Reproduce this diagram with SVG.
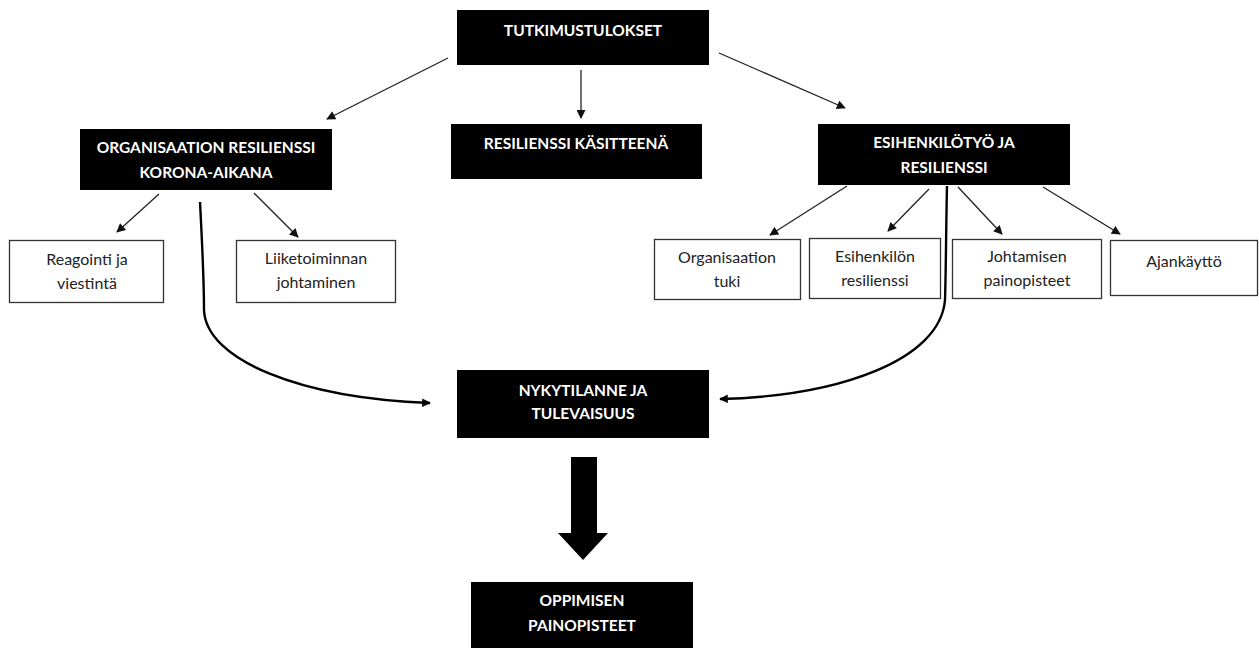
<svg xmlns="http://www.w3.org/2000/svg" width="1259" height="648" viewBox="0 0 1259 648">
  <style>
    .dark { fill: #000; }
    .light { fill: #fff; stroke: #333; stroke-width: 1.3; }
    .hd { font-family: Lato, "Open Sans", "Liberation Sans", sans-serif; font-weight: bold; font-size: 15.5px; fill: #fff; text-anchor: middle; }
    .tx { font-family: Lato, "Open Sans", "Liberation Sans", sans-serif; font-size: 16px; fill: #222; text-anchor: middle; }
    .ln { fill: none; stroke: #222; stroke-width: 1.3; }
    .crv { fill: none; stroke: #000; stroke-width: 2.4; }
  </style>
  <defs>
    <marker id="tri" viewBox="0 0 10 10" refX="9" refY="5" markerWidth="10" markerHeight="9" markerUnits="userSpaceOnUse" orient="auto">
      <path d="M0,0 L10,5 L0,10 Z" fill="#111"/>
    </marker>
    <marker id="triC" viewBox="0 0 10 10" refX="9" refY="5" markerWidth="4.5" markerHeight="3.6" orient="auto">
      <path d="M0,0 L10,5 L0,10 Z" fill="#000"/>
    </marker>
  </defs>
  <rect width="1259" height="648" fill="#fff"/>

  <g id="connectors">
    <line class="ln" x1="448" y1="58" x2="327" y2="119" marker-end="url(#tri)"/>
    <line class="ln" x1="581" y1="70" x2="581" y2="118" marker-end="url(#tri)"/>
    <line class="ln" x1="719" y1="53" x2="845" y2="108" marker-end="url(#tri)"/>

    <line class="ln" x1="159" y1="194" x2="117" y2="232" marker-end="url(#tri)"/>
    <line class="ln" x1="254" y1="193" x2="298" y2="237" marker-end="url(#tri)"/>

    <line class="ln" x1="847" y1="186" x2="770" y2="235" marker-end="url(#tri)"/>
    <line class="ln" x1="929" y1="189" x2="888" y2="231" marker-end="url(#tri)"/>
    <line class="ln" x1="958" y1="187" x2="1002" y2="234" marker-end="url(#tri)"/>
    <line class="ln" x1="1043" y1="187" x2="1120" y2="234" marker-end="url(#tri)"/>

    <path class="crv" d="M200,202 C202,240 204,280 204,310 C206,360 300,398 430,403" marker-end="url(#triC)"/>
    <path class="crv" d="M947,186 C946,230 946,270 945,300 C940,360 840,396 720,399" marker-end="url(#triC)"/>

    <path class="dark" d="M571,457 H597 V533 H608 L583,560 L558,533 H571 Z"/>
  </g>

  <g id="n-tutkimustulokset">
    <rect class="dark" x="457" y="10" width="252" height="55"/>
    <text class="hd" x="583" y="36">TUTKIMUSTULOKSET</text>
  </g>

  <g id="n-resilienssi-kasitteena">
    <rect class="dark" x="451" y="124" width="251" height="55"/>
    <text class="hd" x="576" y="149">RESILIENSSI KÄSITTEENÄ</text>
  </g>

  <g id="n-organisaation-resilienssi">
    <rect class="dark" x="80" y="129" width="252" height="61"/>
    <text class="hd" x="206" y="153">ORGANISAATION RESILIENSSI</text>
    <text class="hd" x="206" y="178">KORONA-AIKANA</text>
  </g>

  <g id="n-esihenkilotyo">
    <rect class="dark" x="818" y="124" width="252" height="61"/>
    <text class="hd" x="944" y="148">ESIHENKILÖTYÖ JA</text>
    <text class="hd" x="944" y="173">RESILIENSSI</text>
  </g>

  <g id="n-reagointi">
    <rect class="light" x="9.5" y="240.5" width="154" height="62"/>
    <text class="tx" x="87" y="265">Reagointi ja</text>
    <text class="tx" x="87" y="289">viestintä</text>
  </g>

  <g id="n-liiketoiminnan">
    <rect class="light" x="236.5" y="240.5" width="159" height="62"/>
    <text class="tx" x="316" y="264">Liiketoiminnan</text>
    <text class="tx" x="316" y="288">johtaminen</text>
  </g>

  <g id="n-organisaation-tuki">
    <rect class="light" x="654.5" y="239.5" width="146" height="60"/>
    <text class="tx" x="727" y="263">Organisaation</text>
    <text class="tx" x="727" y="287">tuki</text>
  </g>

  <g id="n-esihenkilon-resilienssi">
    <rect class="light" x="809.5" y="238.5" width="131" height="60"/>
    <text class="tx" x="875" y="262">Esihenkilön</text>
    <text class="tx" x="875" y="286">resilienssi</text>
  </g>

  <g id="n-johtamisen-painopisteet">
    <rect class="light" x="952.5" y="239.5" width="149" height="59"/>
    <text class="tx" x="1027" y="262">Johtamisen</text>
    <text class="tx" x="1027" y="286">painopisteet</text>
  </g>

  <g id="n-ajankaytto">
    <rect class="light" x="1110.5" y="240.5" width="147" height="55"/>
    <text class="tx" x="1184" y="267">Ajankäyttö</text>
  </g>

  <g id="n-nykytilanne">
    <rect class="dark" x="457" y="370" width="252" height="68"/>
    <text class="hd" x="583" y="396">NYKYTILANNE JA</text>
    <text class="hd" x="583" y="419">TULEVAISUUS</text>
  </g>

  <g id="n-oppimisen">
    <rect class="dark" x="471" y="582" width="222" height="66"/>
    <text class="hd" x="582" y="606">OPPIMISEN</text>
    <text class="hd" x="582" y="631">PAINOPISTEET</text>
  </g>
</svg>
